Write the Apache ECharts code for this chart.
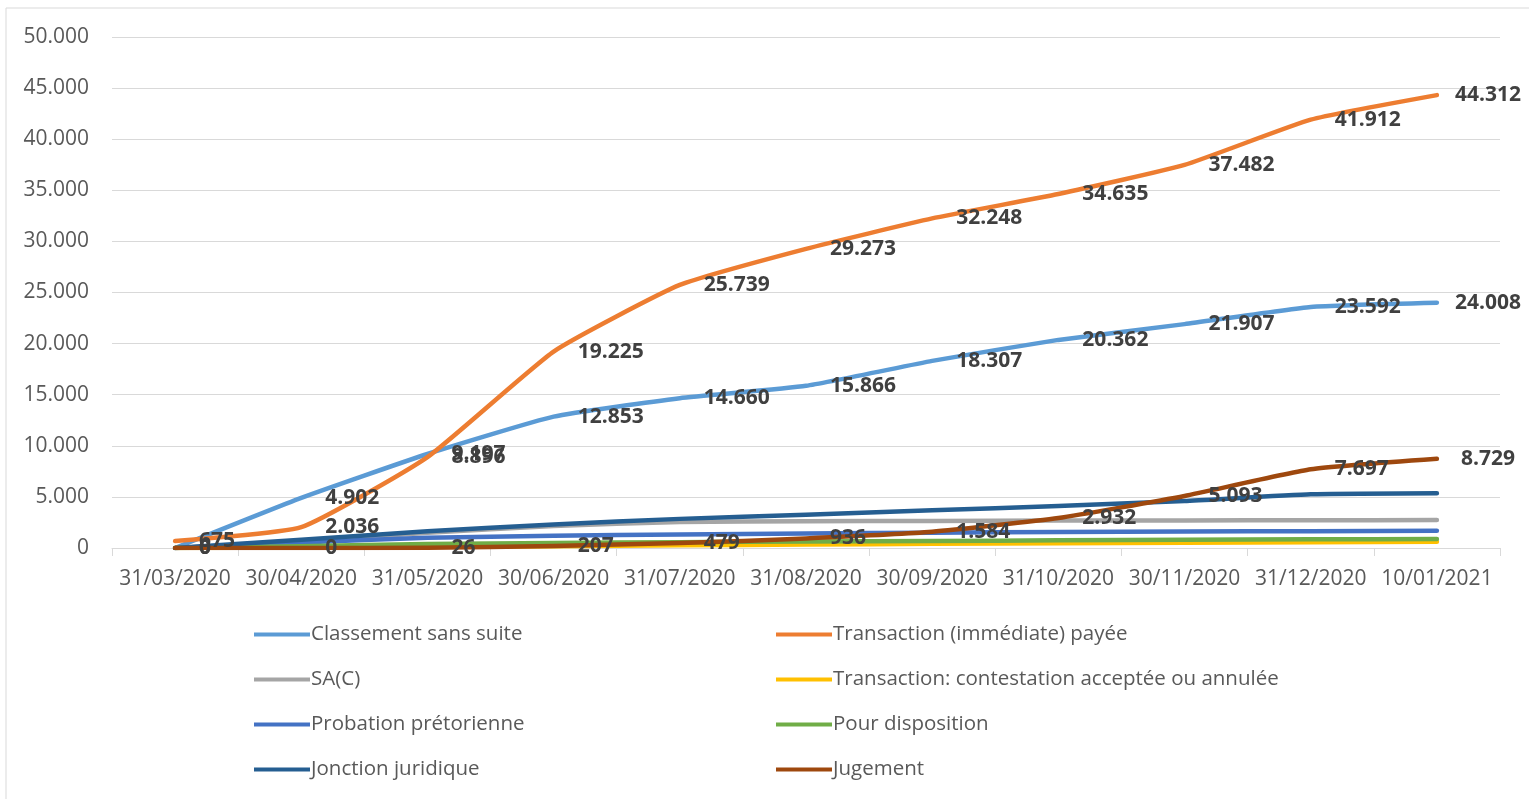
<!DOCTYPE html>
<html>
<head>
<meta charset="utf-8">
<script src="https://cdn.jsdelivr.net/npm/echarts@6/dist/echarts.min.js"></script>
<style>
  html, body { margin: 0; padding: 0; background: #fff; }
  #chart { width: 1529px; height: 799px; }
</style>
</head>
<body>
<div id="chart"></div>
<script>
// Month-end dates
const categories = ['31/03/2020', '30/04/2020', '31/05/2020', '30/06/2020', '31/07/2020',
  '31/08/2020', '30/09/2020', '31/10/2020', '30/11/2020', '31/12/2020', '10/01/2021'];

// Cumulative counts per outcome
const classementSansSuite = [0, 4902, 9197, 12853, 14660, 15866, 18307, 20362, 21907, 23592, 24008];
const transactionPayee    = [675, 2036, 8896, 19225, 25739, 29273, 32248, 34635, 37482, 41912, 44312];
const sac                 = [0, 600, 1500, 2150, 2550, 2620, 2650, 2680, 2700, 2720, 2730];
const transactionContest  = [0, 60, 120, 180, 260, 340, 410, 470, 520, 570, 600];
const probation           = [0, 550, 1000, 1200, 1320, 1420, 1500, 1560, 1610, 1650, 1680];
const pourDisposition     = [0, 180, 380, 480, 570, 630, 690, 750, 800, 850, 880];
const jonctionJuridique   = [0, 800, 1650, 2300, 2850, 3250, 3700, 4100, 4600, 5250, 5350];
const jugement            = [0, 0, 26, 207, 479, 936, 1584, 2932, 5093, 7697, 8729];

const yTicks = { min: 0, max: 50000, interval: 5000 };

function fmt(v) {
  return String(Math.round(v)).replace(/\B(?=(\d{3})+(?!\d))/g, '.');
}

const FONT = '"Open Sans", sans-serif';

// The last point's label sits a little closer so it stays inside the chart.
function withEndLabel(values, lastDistance) {
  return values.map((v, i) => i === values.length - 1
    ? { value: v, label: { distance: lastDistance } }
    : v);
}

function line(name, data, color, withLabels, lastDistance) {
  return {
    name, type: 'line',
    data: withLabels ? withEndLabel(data, lastDistance) : data,
    smooth: 0.15,
    symbol: 'circle', symbolSize: 0, showSymbol: true,
    lineStyle: { color, width: 4.5, cap: 'round', join: 'round' },
    itemStyle: { color },
    label: withLabels ? {
      show: true, position: 'right', distance: 24, offset: [0, 3],
      formatter: p => fmt(p.value),
      fontFamily: FONT, fontWeight: 'bold', fontSize: 21, color: '#404040'
    } : { show: false },
    labelLayout: { hideOverlap: false },
    emphasis: { disabled: true },
    z: 2
  };
}

const chart = echarts.init(document.getElementById('chart'), null, { renderer: 'canvas' });

const legendCommon = {
  orient: 'vertical', top: 619, itemGap: 24, itemWidth: 56, itemHeight: 26,
  icon: 'path://M0,11 L56,11 L56,15 L0,15 Z',
  textStyle: { fontSize: 20.5, color: '#595959', fontFamily: FONT, padding: [0, 0, 0, -4] }
};

chart.setOption({
  animation: false,
  backgroundColor: '#ffffff',
  graphic: [{
    type: 'rect', shape: { x: 6, y: 8, width: 1540, height: 800 },
    style: { fill: 'none', stroke: '#d9d9d9', lineWidth: 1 }, silent: true
  }],
  grid: { left: 112, right: 29, top: 37, bottom: 251, containLabel: false },
  xAxis: {
    type: 'category', data: categories, boundaryGap: true,
    axisLine: { show: true, lineStyle: { color: '#d9d9d9', width: 1 } },
    axisTick: { show: true, length: 8, lineStyle: { color: '#d9d9d9' } },
    axisLabel: { color: '#595959', fontSize: 21, fontFamily: FONT, margin: 21, interval: 0 }
  },
  yAxis: {
    type: 'value', min: yTicks.min, max: yTicks.max, interval: yTicks.interval,
    axisLine: { show: false }, axisTick: { show: false },
    splitLine: { lineStyle: { color: '#d9d9d9', width: 1 } },
    axisLabel: { color: '#595959', fontSize: 21, fontFamily: FONT, margin: 23, formatter: v => fmt(v) }
  },
  legend: [Object.assign({}, legendCommon, {
    left: 249,
    data: ['Classement sans suite', 'SA(C)', 'Probation prétorienne', 'Jonction juridique']
  }), Object.assign({}, legendCommon, {
    left: 771,
    data: ['Transaction (immédiate) payée', 'Transaction: contestation acceptée ou annulée', 'Pour disposition', 'Jugement']
  })],
  series: [
    line('Classement sans suite', classementSansSuite, '#5B9BD5', true, 18),
    line('Transaction (immédiate) payée', transactionPayee, '#ED7D31', true, 18),
    line('SA(C)', sac, '#A5A5A5', false),
    line('Transaction: contestation acceptée ou annulée', transactionContest, '#FFC000', false),
    line('Probation prétorienne', probation, '#4472C4', false),
    line('Pour disposition', pourDisposition, '#70AD47', false),
    line('Jonction juridique', jonctionJuridique, '#255E91', false),
    line('Jugement', jugement, '#9E480E', true, 24)
  ]
});
</script>
</body>
</html>
